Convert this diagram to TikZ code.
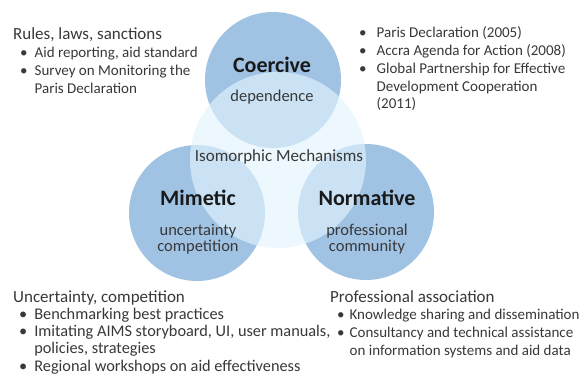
\documentclass[tikz,border=0pt]{standalone}
\usepackage{fontspec}
\setmainfont{Carlito}
\definecolor{circblue}{RGB}{160,195,228}
\definecolor{isolight}{RGB}{226,244,252}
\definecolor{txtgray}{RGB}{56,56,56}
\newcommand{\bodyfont}{\fontsize{15}{17.7}\selectfont}
\newcommand{\headfont}{\fontsize{17}{17.7}\selectfont}
\begin{document}
\begin{tikzpicture}[x=1pt, y=-1pt,
    mech/.style={circle, fill=circblue, minimum size=136pt, inner sep=0pt},
    mechname/.style={font=\fontsize{22}{22}\selectfont\bfseries, text=black!90},
    mechsub/.style={font=\fontsize{16.5}{17}\selectfont, text=txtgray, align=center},
    block/.style={anchor=base west, inner sep=0pt, font=\bodyfont, text=txtgray}]
  \useasboundingbox (0,0) rectangle (586,377);
  % three mechanisms
  \node[mech] (coercive) at (273,80) {};
  \node[mech] (mimetic) at (197,213) {};
  \node[mech] (normative) at (366,212) {};
  % isomorphic mechanisms, lies over the others
  \node[circle, fill=isolight, fill opacity=0.65, minimum size=176pt, inner sep=0pt]
    (iso) at (278,160) {};
  \node[font=\fontsize{17}{17}\selectfont, text=txtgray] (isotext) at (279,157) {Isomorphic Mechanisms};
  \node[mechname] (coername) at (272,65) {Coercive};
  \node[mechsub] (coersub) at (272,97) {dependence};
  \node[mechname] (mimname) at (198,198) {Mimetic};
  \node[mechsub] (mimsub) at (198,239) {uncertainty\\[-1pt]competition};
  \node[mechname] (normname) at (367,198) {Normative};
  \node[mechsub] (normsub) at (367,239) {professional\\[-1pt]community};
  % lists
  \node[block] (rules) at (13,40) {\begin{tabular}[t]{@{}l@{\hspace{7pt}}l@{}}
    \multicolumn{2}{@{}l}{\headfont Rules, laws, sanctions}\\
    \hspace{7pt}\textbullet & Aid reporting, aid standard\\
    \hspace{7pt}\textbullet & Survey on Monitoring the\\
    & Paris Declaration
  \end{tabular}};
  \node[block] (paris) at (359,38) {\begin{tabular}[t]{@{}l@{\hspace{10pt}}l@{}}
    \textbullet & Paris Declaration (2005)\\
    \textbullet & Accra Agenda for Action (2008)\\
    \textbullet & Global Partnership for Effective\\
    & Development Cooperation\\
    & (2011)
  \end{tabular}};
  \node[block, font=\fontsize{16.3}{17.3}\selectfont] (uncert) at (13,302) {\begin{tabular}[t]{@{}l@{\hspace{7pt}}l@{}}
    \multicolumn{2}{@{}l}{\headfont Uncertainty, competition}\\
    \hspace{6pt}\textbullet & Benchmarking best practices\\
    \hspace{6pt}\textbullet & Imitating AIMS storyboard, UI, user manuals,\\
    & policies, strategies\\
    \hspace{6pt}\textbullet & Regional workshops on aid effectiveness
  \end{tabular}};
  \node[block] (profass) at (330,302) {\begin{tabular}[t]{@{}l@{\hspace{5pt}}l@{}}
    \multicolumn{2}{@{}l}{\headfont Professional association}\\
    \hspace{7pt}\textbullet & Knowledge sharing and dissemination\\
    \hspace{7pt}\textbullet & Consultancy and technical assistance\\
    & on information systems and aid data
  \end{tabular}};
\end{tikzpicture}
\end{document}
